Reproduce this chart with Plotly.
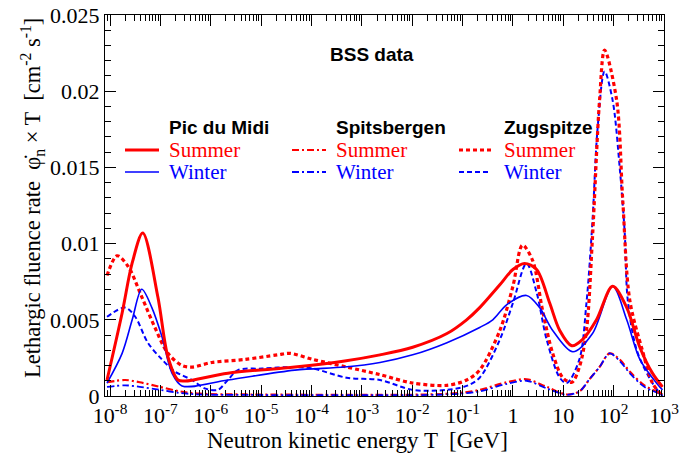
import numpy as np
import plotly.graph_objects as go

# Lethargic neutron fluence rate (cm^-2 s^-1) vs log10 of kinetic energy T (GeV)
logT_pm_summer = [-8.06, -7.76, -7.56, -7.35, -7.05, -6.85, -6.65, -6.51, -5.66, -4.33, -3.34, -2.64,
                  -1.99, -1.31, -0.92, -0.66, -0.26, 0.0, 0.23, 0.47, 0.73, 0.93, 1.17, 1.38, 1.66,
                  1.98, 2.26, 2.52, 2.77, 2.97]
pm_summer = [0.00105, 0.00545, 0.00873, 0.0107, 0.0065, 0.00256, 0.00105, 0.00098, 0.0015, 0.0019,
             0.0023, 0.0027, 0.0032, 0.0041, 0.0050, 0.0058, 0.0073, 0.0083, 0.0087, 0.0083, 0.0061,
             0.0043, 0.0033, 0.0037, 0.0050, 0.0072, 0.0058, 0.0032, 0.0015, 0.0006]

logT_pm_winter = [-8.06, -7.76, -7.56, -7.37, -7.17, -6.97, -6.77, -6.57, -5.66, -4.33, -3.34, -2.64,
                  -1.99, -1.31, -0.66, -0.40, -0.12, 0.27, 0.53, 0.79, 1.19, 1.58, 1.98, 2.26, 2.52,
                  2.85, 2.97]
pm_winter = [0.00085, 0.0028, 0.0050, 0.0070, 0.0058, 0.0039, 0.0015, 0.00066, 0.00105, 0.0017,
             0.0019, 0.0022, 0.0027, 0.0035, 0.0045, 0.0050, 0.0060, 0.0066, 0.0058, 0.0043, 0.0029,
             0.0041, 0.0072, 0.0050, 0.0024, 0.00085, 0.0004]

logT_sp = [-8.06, -7.70, -7.41, -7.01, -6.61, -6.21, -5.22, -3.24, -1.65, -1.06, -0.66, -0.12, 0.27,
           0.67, 1.07, 1.32, 1.52, 1.72, 1.92, 2.12, 2.32, 2.61, 2.97]
sp_summer = [0.0009, 0.00105, 0.0009, 0.0006, 0.0003, 0.00015, 0.0001, 0.00008, 0.0001, 0.0002,
             0.0004, 0.0009, 0.0011, 0.0006, 0.0001, 0.0003, 0.0011, 0.0019, 0.0028, 0.0024, 0.0016,
             0.0007, 0.0001]
sp_winter = [0.0006, 0.0007, 0.0006, 0.0004, 0.0002, 0.0001, 0.00007, 0.00005, 0.00007, 0.00015,
             0.0003, 0.0008, 0.0010, 0.0005, 0.00008, 0.0003, 0.0011, 0.0019, 0.0028, 0.0023, 0.0015,
             0.0006, 0.0001]

logT_zs_summer = [-8.06, -7.86, -7.64, -7.37, -7.11, -6.85, -6.57, -6.37, -5.98, -5.32, -4.67, -4.43,
                  -3.97, -3.30, -2.64, -1.99, -1.31, -0.92, -0.66, -0.26, 0.0, 0.19, 0.39, 0.59, 0.79,
                  0.99, 1.17, 1.32, 1.46, 1.58, 1.72, 1.82, 2.06, 2.18, 2.32, 2.57, 2.77, 2.97]
zs_summer = [0.0079, 0.0092, 0.0085, 0.0065, 0.0045, 0.0028, 0.0020, 0.0019, 0.0022, 0.0024, 0.0027,
             0.0028, 0.0024, 0.0019, 0.0014, 0.00085, 0.0007, 0.00105, 0.0017, 0.0043, 0.0072, 0.0099,
             0.0089, 0.0056, 0.0028, 0.0012, 0.0009, 0.0019, 0.0043, 0.0104, 0.0194, 0.0227, 0.0194,
             0.0129, 0.0063, 0.0030, 0.00085, 0.0]

logT_zs_winter = [-8.06, -7.70, -7.50, -7.25, -6.97, -6.71, -6.37, -6.12, -5.86, -5.66, -5.46, -4.98,
                  -4.33, -3.97, -3.30, -2.64, -1.99, -1.31, -0.92, -0.66, -0.26, 0.0, 0.27, 0.47, 0.67,
                  0.93, 1.07, 1.32, 1.46, 1.58, 1.68, 1.82, 1.98, 2.12, 2.22, 2.28, 2.46, 2.77, 2.97]
zs_winter = [0.0052, 0.0058, 0.0052, 0.0035, 0.0024, 0.0016, 0.00105, 0.0005, 0.0004, 0.00105,
             0.0017, 0.0018, 0.0019, 0.0018, 0.0012, 0.00105, 0.0004, 0.0004, 0.00066, 0.0012, 0.0037,
             0.0061, 0.0087, 0.0068, 0.0037, 0.0012, 0.00085, 0.0024, 0.0061, 0.0115, 0.0175, 0.0213,
             0.0194, 0.0150, 0.0107, 0.0063, 0.0030, 0.00085, 0.0]

x_tickvals = [1e-8, 1e-7, 1e-6, 1e-5, 1e-4, 1e-3, 1e-2, 1e-1, 1, 10, 100, 1000]
x_ticktext = ["10<sup>-8</sup>", "10<sup>-7</sup>", "10<sup>-6</sup>", "10<sup>-5</sup>",
              "10<sup>-4</sup>", "10<sup>-3</sup>", "10<sup>-2</sup>", "10<sup>-1</sup>",
              "1", "10", "10<sup>2</sup>", "10<sup>3</sup>"]
y_tickvals = [0, 0.005, 0.01, 0.015, 0.02, 0.025]
y_ticktext = ["0", "0.005", "0.01", "0.015", "0.02", "0.025"]

RED = "#ff0000"
BLUE = "#0000ff"
SERIF = "Liberation Serif"
SANS = "Liberation Sans"

DOT = "4px,3px"
DASH = "5px,3px"
DASHDOT = "7px,3px,2px,3px"

series = [
    (logT_sp, sp_summer, RED, 2.2, DASHDOT),
    (logT_sp, sp_winter, BLUE, 1.8, DASHDOT),
    (logT_zs_winter, zs_winter, BLUE, 2.0, DASH),
    (logT_zs_summer, zs_summer, RED, 3.2, DOT),
    (logT_pm_winter, pm_winter, BLUE, 1.6, "solid"),
    (logT_pm_summer, pm_summer, RED, 3.0, "solid"),
]

fig = go.Figure()
for logT, vals, color, width, dash in series:
    fig.add_trace(go.Scatter(
        x=np.power(10.0, logT), y=vals, mode="lines",
        line=dict(color=color, width=width, dash=dash, shape="spline", smoothing=0.9),
        showlegend=False, hoverinfo="skip",
    ))

L, R, T, B = 105, 30, 15, 60
W, H = 694, 456
pw, ph = W - L - R, H - T - B


def px(x):
    return (x - L) / pw


def py(y):
    return (H - B - y) / ph


annotations = [
    dict(text="<b>BSS data</b>", x=px(372), y=py(54), font=dict(family=SANS, size=19, color="black")),
    dict(text="Neutron kinetic energy T  [GeV]", x=px(357), y=py(440),
         font=dict(family=SERIF, size=23, color="black")),
    dict(text="Lethargic fluence rate  \u03c6\u0307<sub>n</sub> \u00d7 T  [cm<sup>-2</sup> s<sup>-1</sup>]",
         x=px(32), y=py(198), textangle=-90, font=dict(family=SERIF, size=22.5, color="black")),
]
shapes = []

columns = [
    ("Pic du Midi", 125, 159, 167, "solid", 3.0, 1.6),
    ("Spitsbergen", 292, 326, 334, DASHDOT, 2.2, 1.8),
    ("Zugspitze", 459, 491, 502, DOT, 3.2, 2.0),
]
for name, x0, x1, xt, dash, wr, wb in columns:
    blue_dash = DASH if dash == DOT else dash
    annotations.append(dict(text=f"<b>{name}</b>", x=px(xt), y=py(127), xanchor="left",
                            font=dict(family=SANS, size=19, color="black")))
    annotations.append(dict(text="Summer", x=px(xt), y=py(150), xanchor="left",
                            font=dict(family=SERIF, size=21, color=RED)))
    annotations.append(dict(text="Winter", x=px(xt), y=py(172), xanchor="left",
                            font=dict(family=SERIF, size=21, color=BLUE)))
    shapes.append(dict(type="line", xref="paper", yref="paper", x0=px(x0), x1=px(x1),
                       y0=py(150), y1=py(150), line=dict(color=RED, width=wr, dash=dash)))
    shapes.append(dict(type="line", xref="paper", yref="paper", x0=px(x0), x1=px(x1),
                       y0=py(172), y1=py(172), line=dict(color=BLUE, width=wb, dash=blue_dash)))

for a in annotations:
    a.update(xref="paper", yref="paper", showarrow=False, yanchor="middle")
    a.setdefault("xanchor", "center")

axis_common = dict(
    showline=True, linecolor="black", linewidth=1, mirror="allticks",
    ticks="inside", tickcolor="black", tickwidth=1, showgrid=False, zeroline=False,
    automargin=False, ticklen=11,
    tickfont=dict(family=SERIF, size=22, color="black"),
)

fig.update_layout(
    width=W, height=H,
    margin=dict(l=L, r=R, t=T, b=B, autoexpand=False),
    paper_bgcolor="white", plot_bgcolor="white",
    xaxis=dict(
        type="log", range=[-8.1, 3.0], tickmode="array", tickvals=x_tickvals, ticktext=x_ticktext,
        minor=dict(ticks="inside", ticklen=6, tickcolor="black", dtick="D1", showgrid=False),
        **axis_common,
    ),
    yaxis=dict(
        range=[0, 0.025], tickmode="array", tickvals=y_tickvals, ticktext=y_ticktext,
        minor=dict(ticks="inside", ticklen=6, tickcolor="black", dtick=0.001, showgrid=False),
        **axis_common,
    ),
    annotations=annotations,
    shapes=shapes,
)

fig.write_html("out.html")
